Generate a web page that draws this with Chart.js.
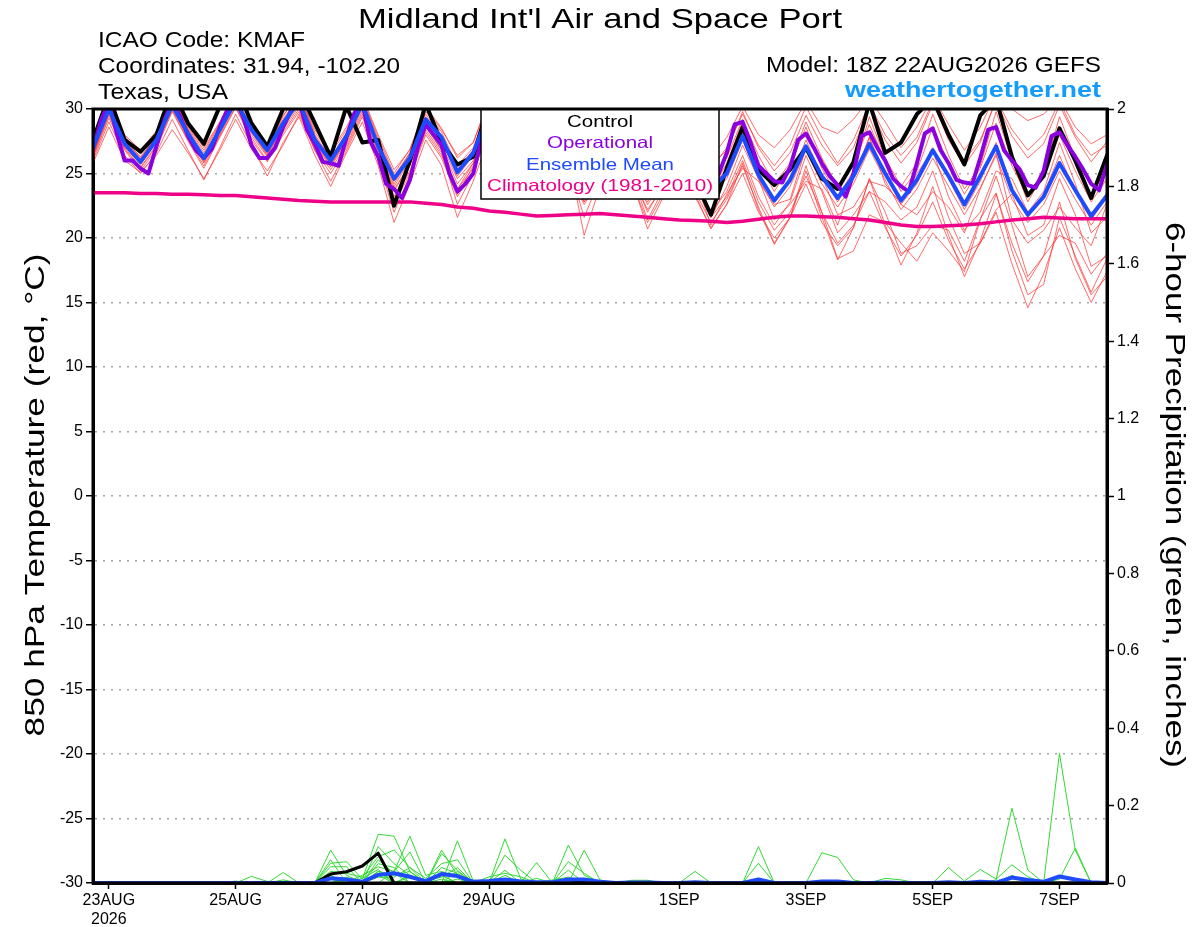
<!DOCTYPE html>
<html><head><meta charset="utf-8">
<script src="https://cdn.jsdelivr.net/npm/chart.js@4.4.1/dist/chart.umd.min.js"></script>
<style>html,body{margin:0;padding:0;background:#fff;}canvas{display:block;}</style>
</head><body>
<canvas id="c" width="1200" height="927"></canvas>
<script>
// ---------- text ----------
const titleText = "Midland Int'l Air and Space Port";
const infoLeft = ["ICAO Code: KMAF", "Coordinates: 31.94, -102.20", "Texas, USA"];
const modelText = "Model: 18Z 22AUG2026 GEFS";
const siteText = "weathertogether.net";
const leftAxisTitle = "850 hPa Temperature (red, °C)";
const rightAxisTitle = "6-hour Precipitation (green, inches)";
const legendLabels = ["Control", "Operational", "Ensemble Mean", "Climatology (1981-2010)"];

// ---------- ticks (x in 6-hour steps from 18Z 22AUG2026) ----------
const xTickIdx = [1, 9, 17, 25, 37, 45, 53, 61];
const xTickLabels = [["23AUG", "2026"], "25AUG", "27AUG", "29AUG", "1SEP", "3SEP", "5SEP", "7SEP"];
const tempTicks = [-30, -25, -20, -15, -10, -5, 0, 5, 10, 15, 20, 25, 30];
const precipTicks = [0, 0.2, 0.4, 0.6, 0.8, 1, 1.2, 1.4, 1.6, 1.8, 2];

// ---------- 850 hPa temperature (6-hourly, 65 values) ----------
const tempControl = [27.6,31.0,27.6,26.7,28.0, 31.5,28.9,27.3,30.2, 32.0,28.9,27.1,30.0, 31.5,28.9,26.3,30.2, 27.4,27.6,22.5,26.0, 30.4,27.4,25.7,26.3, 30.5,28.0,26.5,27.8, 30.6,28.5,26.8,28.0, 30.8,28.2,26.3,27.5, 30.0,24.5,21.8,25.4, 28.6,25.3,24.1,25.3, 27.0,24.6,23.8,25.9, 30.5,26.6,27.4,29.6, 30.8,28.0,25.7,29.5, 30.8,26.3,23.3,24.8, 28.5,26.0,23.1,26.4];
const tempMean = [27.0,30.0,27.3,25.9,27.6, 30.3,28.1,26.2,28.4, 30.6,28.4,26.8,28.9, 30.6,27.6,26.0,27.9, 30.4,27.1,24.6,26.2, 29.2,27.8,25.1,26.6, 29.8,27.8,26.0,27.3, 29.6,27.6,25.8,26.9, 29.4,27.3,25.6,26.6, 28.8,25.8,23.8,25.0, 27.9,24.9,22.9,24.5, 27.1,24.8,23.1,24.8, 27.3,25.0,22.9,24.5, 26.8,24.8,22.6,24.8, 27.1,23.7,21.8,23.2, 25.8,23.7,21.7,23.3];
const tempClim = [23.5,23.5,23.5,23.45,23.45, 23.4,23.4,23.35,23.3, 23.3,23.2,23.1,23.0, 22.9,22.85,22.8,22.8, 22.8,22.8,22.8,22.8, 22.7,22.6,22.4,22.3, 22.1,22.0,21.85,21.7, 21.75,21.8,21.85,21.9, 21.8,21.7,21.6,21.5, 21.4,21.35,21.3,21.2, 21.3,21.45,21.6,21.7, 21.7,21.65,21.6,21.5, 21.4,21.2,21.0,20.9, 20.9,20.95,21.0,21.1, 21.25,21.4,21.5,21.6, 21.55,21.5,21.5,21.5];
// operational run: 3-hourly, 129 values
const tempOper = [
26.9,29.1,30.5,28.1,26.0,26.0,25.4,25.0,27.1,29.1,
30.6,29.4,27.9,26.8,26.2,26.9,28.6,30.0,30.8,29.3,
27.2,26.2,26.2,27.0,28.6,29.9,30.7,28.4,27.3,25.9,
25.8,25.6,27.8,29.7,30.5,27.5,26.3,24.2,23.8,23.1,
24.5,27.0,28.8,28.0,27.2,25.0,23.6,24.2,25.0,27.5,
30.2,29.5,28.0,26.8,26.0,26.5,28.0,29.8,30.5,29.4,
27.6,26.5,25.8,26.2,27.8,29.6,30.3,29.0,27.2,26.0,
25.4,25.8,27.4,29.3,30.0,28.6,26.6,24.5,24.0,25.0,
26.6,28.8,29.0,27.4,25.6,25.0,24.4,24.3,25.5,27.6,
28.1,27.0,25.8,24.8,24.1,23.2,25.0,27.9,28.2,27.0,
26.0,24.6,24.0,23.6,25.8,28.1,28.5,26.8,25.8,24.5,
24.3,24.2,26.2,28.4,28.6,26.8,26.0,25.3,24.1,23.9,
25.2,27.9,28.2,27.2,26.3,25.3,24.2,23.7,25.7];
// ensemble members
const tempM01 = [27.5,31.2,28.0,26.8,28.3, 31.0,28.6,27.0,29.0, 31.4,29.0,27.3,29.5, 31.2,28.4,26.7,28.6, 31.0,28.0,25.3,26.8, 30.2,28.5,26.2,27.4, 30.8,28.8,26.9,28.1, 30.6,28.4,26.7,27.8, 30.4,28.2,26.4,27.5, 30.1,27.5,25.6,26.8, 29.8,27.0,25.2,26.6, 29.5,27.2,25.6,27.0, 30.2,27.6,25.8,27.4, 30.4,27.8,26.0,27.6, 30.6,27.9,26.2,27.3, 30.3,27.8,25.9,27.5];
const tempM02 = [26.5,29.6,27.0,25.5,27.2, 30.0,27.8,25.8,28.0, 30.4,28.0,26.3,28.4, 30.2,27.2,25.5,27.4, 30.0,26.6,23.8,25.6, 28.8,27.2,24.6,26.0, 29.4,27.4,25.4,26.8, 29.2,27.0,25.2,26.4, 29.0,26.8,24.8,26.0, 28.4,25.4,23.2,24.6, 27.6,24.6,22.4,24.0, 26.8,24.2,22.4,24.2, 26.9,24.5,22.2,23.8, 26.2,24.0,21.8,23.9, 26.4,23.0,21.2,22.6, 25.2,23.0,21.0,22.8];
const tempM03 = [26.2,29.3,26.8,25.2,26.9, 29.8,27.5,25.4,27.8, 30.1,27.6,25.9,28.0, 29.8,26.8,25.0,27.0, 29.6,26.2,22.6,25.0, 28.2,26.4,23.8,25.4, 28.8,26.8,24.4,26.0, 28.6,26.2,23.6,25.2, 27.8,25.4,22.8,24.4, 27.2,24.0,21.6,23.2, 26.0,22.8,20.6,22.0, 24.8,22.0,19.6,21.0, 23.6,20.8,18.6,20.2, 22.8,19.8,17.6,19.6, 22.0,18.0,14.6,17.2, 20.8,17.6,15.0,17.4];
const tempM04 = [27.0,30.8,27.6,26.2,28.0, 31.3,28.4,26.6,28.8, 31.6,28.8,27.0,29.4, 31.4,28.0,26.2,28.2, 30.8,27.6,24.8,26.6, 29.8,28.2,25.6,27.0, 30.4,28.4,26.4,27.6, 30.2,28.0,26.2,27.4, 30.0,27.6,25.8,26.8, 29.6,26.6,24.8,26.2, 29.2,26.4,24.2,25.8, 29.0,26.2,24.0,25.6, 28.8,26.0,23.6,25.2, 28.6,25.8,23.4,25.4, 28.9,25.6,23.2,24.8, 28.0,25.2,22.8,24.6];
const tempM05 = [26.0,29.0,26.4,25.0,26.6, 29.2,26.8,24.5,27.0, 29.6,27.2,24.8,27.4, 29.4,26.4,24.0,26.6, 29.0,25.6,21.2,24.2, 27.6,25.6,21.6,24.4, 27.8,25.8,23.0,25.0, 27.6,25.0,22.6,24.6, 27.2,24.8,22.2,24.0, 26.8,23.6,21.2,23.0, 25.6,22.4,19.6,21.6, 25.6,22.0,18.4,19.0, 21.8,21.2,19.6,18.2, 20.4,19.0,17.4,21.4, 24.8,21.0,17.0,18.6, 20.2,19.6,17.2,18.8];
const tempM06 = [26.8,30.2,27.4,26.0,27.8, 30.6,28.2,26.4,28.6, 31.0,28.6,26.9,29.0, 30.8,27.8,26.2,28.0, 30.6,27.4,24.4,26.4, 29.4,27.8,25.2,26.8, 30.0,28.0,26.0,27.6, 30.2,27.8,26.0,27.2, 29.8,27.6,25.8,27.0, 29.6,27.0,25.4,27.0, 29.6,27.2,25.6,27.2, 30.2,27.8,25.8,27.6, 30.4,28.0,26.4,27.8, 30.6,27.6,25.6,27.4, 30.8,28.4,26.8,28.0, 30.6,28.0,26.4,27.2];
const tempM07 = [26.4,29.8,27.1,25.7,27.4, 30.2,27.9,25.9,28.2, 30.5,28.2,26.5,28.6, 30.4,27.4,25.7,27.6, 30.2,26.8,24.0,26.0, 28.6,26.8,23.4,25.6, 28.8,26.6,23.4,25.8, 28.4,25.8,21.6,24.6, 27.6,25.0,22.0,24.2, 27.4,24.4,21.6,24.0, 27.2,24.6,21.4,22.6, 24.4,23.8,21.0,24.6, 27.8,24.2,22.6,21.8, 23.6,22.4,20.4,23.8, 26.6,21.4,19.6,20.6, 22.4,20.8,19.4,22.6];
const tempM08 = [27.2,30.4,27.6,26.3,27.8, 30.8,28.3,26.2,28.4, 30.8,28.4,26.7,28.8, 30.6,27.6,25.8,27.8, 30.6,27.0,23.2,25.6, 29.0,27.0,24.2,25.8, 29.2,27.0,24.6,26.2, 28.8,26.4,20.2,24.0, 27.0,24.6,20.7,23.2, 26.4,23.4,20.7,22.6, 25.8,22.2,19.5,21.6, 25.2,21.6,18.3,20.8, 24.6,21.0,17.9,20.4, 24.0,20.2,17.0,19.8, 23.4,19.6,16.6,18.6, 22.8,18.4,15.6,17.0];
const tempM09 = [26.6,29.9,27.2,25.8,27.5, 30.4,28.0,26.0,28.3, 30.7,28.3,26.6,28.7, 30.5,27.5,25.9,27.8, 30.3,27.0,24.2,26.2, 29.0,27.6,24.8,26.4, 29.6,27.6,25.8,27.2, 29.4,27.4,25.6,26.8, 29.2,27.0,25.2,26.4, 28.8,25.6,23.8,25.4, 28.2,25.0,23.0,24.6, 27.6,24.8,22.8,24.6, 27.8,25.0,22.6,24.2, 27.0,24.6,22.2,24.4, 27.4,23.8,21.6,23.4, 26.4,23.6,21.4,23.2];
const tempM10 = [27.4,30.6,27.9,26.5,28.1, 30.9,28.5,26.8,28.9, 31.2,28.9,27.2,29.2, 31.0,28.2,26.5,28.4, 30.9,27.8,25.0,26.9, 30.0,28.4,26.4,27.4, 30.6,28.6,27.0,28.0, 30.8,28.6,27.0,28.2, 30.6,28.4,26.8,28.0, 30.4,28.0,26.2,27.8, 30.2,28.0,27.0,28.4, 30.6,28.6,28.1,29.2, 30.8,29.0,27.0,28.6, 31.0,28.8,26.8,28.6, 31.2,30.0,29.1,29.6, 30.8,28.6,27.3,28.0];
const tempM11 = [26.3,29.5,26.9,25.4,27.1, 29.9,27.6,25.6,27.9, 30.2,27.8,26.0,28.2, 30.0,27.0,25.3,27.2, 29.8,26.4,23.0,25.2, 28.4,26.6,22.6,25.0, 28.6,26.4,23.6,25.6, 28.2,25.6,22.8,24.6, 27.8,25.0,21.4,23.8, 27.0,24.0,22.0,23.6, 26.4,23.2,21.0,22.8, 26.4,23.6,20.4,21.8, 23.6,22.8,21.4,22.4, 25.2,21.6,18.8,19.6, 22.2,23.4,20.2,21.0, 24.6,21.8,17.8,18.6];
const tempM12 = [27.0,30.3,27.5,26.1,27.8, 30.7,28.2,26.3,28.5, 31.0,28.5,26.8,29.0, 30.9,27.9,26.0,27.9, 30.7,27.3,24.6,26.6, 29.6,27.9,25.4,26.8, 30.2,28.2,26.2,27.8, 30.0,27.8,25.8,27.0, 29.6,27.2,25.4,26.6, 29.0,26.0,23.6,25.8, 29.0,25.8,23.6,25.6, 28.6,25.4,23.2,25.2, 29.4,26.2,24.0,25.8, 29.6,26.4,23.8,25.6, 29.8,26.0,22.8,25.0, 29.4,26.2,23.2,25.6];
const tempM13 = [26.7,30.0,27.3,25.9,27.6, 30.4,28.0,26.1,28.4, 30.6,28.2,26.4,28.6, 30.4,27.3,25.6,27.6, 30.2,26.9,23.6,25.8, 28.8,26.8,23.8,25.8, 29.0,26.6,24.0,25.8, 28.4,25.8,22.8,24.8, 27.6,24.4,21.2,23.4, 26.6,23.2,20.8,22.6, 25.0,22.0,20.0,21.6, 24.2,21.2,19.4,20.8, 24.6,22.0,18.8,19.4, 21.0,20.6,18.2,21.5, 23.5,19.0,15.6,16.4, 21.6,18.6,15.8,18.4];
const tempM14 = [25.8,28.6,26.0,25.1,26.4, 28.4,26.6,24.6,26.8, 29.2,26.9,25.2,27.2, 29.6,26.8,24.4,26.8, 29.4,26.0,22.0,24.8, 28.0,26.2,23.2,25.2, 28.4,26.2,24.2,25.6, 28.0,25.6,23.4,25.0, 27.6,25.2,22.6,24.4, 27.4,24.6,21.0,23.4, 25.4,24.4,22.6,23.0, 27.0,24.8,21.8,22.4, 24.4,24.0,22.8,25.0, 26.8,23.2,20.6,22.0, 25.2,24.6,22.0,23.6, 27.4,24.2,20.4,21.6];
const tempMembers = [tempM01,tempM02,tempM03,tempM04,tempM05,tempM06,tempM07,tempM08,tempM09,tempM10,tempM11,tempM12,tempM13,tempM14];

// ---------- 6-hour precipitation, inches (65 values) ----------
const precipControl = [
0,0,0,0,0,0,0,0,0,0,
0,0,0,0,0,0.023,0.029,0.044,0.077,0,
0,0,0,0,0,0,0,0,0,0,
0,0.003,0,0,0,0,0,0,0,0,
0,0,0,0,0,0,0,0,0,0,
0,0,0,0,0,0,0,0,0,0,
0,0,0,0,0];
const precipMean = [
0,0,0,0,0,0,0,0,0,0,
0,0,0,0,0,0.012,0.009,0.003,0.021,0.025,
0.016,0.005,0.023,0.018,0.003,0.005,0.009,0.004,0.002,0.002,
0.009,0.009,0.003,0,0.001,0.001,0,0,0.002,0,
0,0,0.009,0,0,0,0.004,0.004,0,0,
0.001,0,0,0,0.002,0,0.003,0.001,0.014,0.008,
0.003,0.017,0.009,0.002,0];
const precipM01 = [
0,0,0,0,0,0,0,0,0,0,
0.017,0.004,0,0,0,0.085,0.02,0,0.03,0,
0,0,0.085,0.02,0,0,0.114,0.01,0,0,
0.098,0.02,0,0,0,0,0,0,0,0,
0,0,0.094,0,0,0,0,0,0,0,
0,0,0,0,0,0,0,0,0,0,
0,0.335,0.085,0,0];
const precipM02 = [
0,0,0,0,0,0,0,0,0,0,
0,0,0.027,0,0,0.051,0.055,0.01,0.126,0.121,
0.03,0,0,0.109,0.005,0,0.033,0,0.053,0,
0,0.085,0.008,0,0,0,0,0,0,0,
0,0,0,0,0,0,0.078,0.066,0.008,0,
0,0,0,0,0,0,0,0.008,0.193,0.034,
0,0,0,0,0];
const precipM03 = [
0,0,0,0,0,0,0,0,0,0,
0,0,0,0,0,0.042,0.042,0,0.094,0.05,
0.02,0,0.076,0.033,0,0,0.072,0.033,0,0,
0.055,0.025,0,0,0,0,0,0,0,0,
0,0,0.051,0,0,0,0,0,0,0,
0,0,0,0,0.04,0.005,0.035,0.01,0.047,0.016,
0,0.01,0.09,0,0];
const precipM04 = [
0,0,0,0,0,0,0,0,0,0,
0,0,0,0,0,0.03,0.025,0.015,0.068,0.085,
0.04,0.012,0.05,0.06,0,0.016,0.025,0.016,0,0,
0.033,0,0,0,0,0,0,0,0.03,0,
0,0,0,0,0,0,0,0,0,0,
0,0,0,0,0,0,0,0,0,0,
0,0,0,0,0];
const precipM05 = [
0,0,0,0,0,0,0,0,0,0,
0,0,0,0,0,0,0,0,0,0.03,
0.121,0.02,0.03,0.015,0,0,0,0,0.012,0,
0,0,0,0,0.007,0.007,0,0,0,0,
0,0,0,0,0,0,0,0,0,0,
0.012,0.008,0,0,0,0,0,0,0,0,
0,0,0,0,0];
const precipM06 = [
0,0,0,0,0,0,0,0,0,0.005,
0,0,0,0,0,0.02,0,0.02,0.042,0.03,
0.08,0,0.02,0,0.008,0,0.02,0,0,0,
0,0,0,0,0,0,0,0,0,0,
0,0,0,0,0,0,0,0,0,0,
0,0,0,0,0,0,0,0,0,0,
0,0,0,0,0];
const precipM07 = [
0,0,0,0,0,0,0,0,0,0,
0,0,0,0,0,0,0.015,0,0.03,0.02,
0.03,0,0.04,0.025,0,0,0,0,0,0,
0,0,0,0,0,0,0,0,0,0,
0,0,0,0,0,0,0,0,0,0,
0,0,0,0,0,0,0,0,0.02,0,
0,0,0,0,0];
const precipM08 = [
0,0,0,0,0,0,0,0,0,0,
0,0,0,0,0,0.01,0,0,0.02,0,
0.015,0,0.01,0,0,0,0,0,0,0.008,
0.015,0,0,0,0,0,0,0,0,0,
0,0,0,0,0,0,0,0,0,0,
0,0,0,0,0,0,0,0,0,0,
0,0,0,0,0];
const precipM09 = [
0,0,0,0,0,0,0,0,0,0,
0,0,0,0,0,0,0,0,0.05,0.04,
0,0,0,0.03,0,0,0,0,0,0,
0,0,0,0,0,0,0,0,0,0,
0,0,0,0,0,0,0,0,0,0,
0,0,0,0,0,0,0,0,0,0,
0,0,0,0,0];
const precipM10 = [
0,0,0,0,0,0,0,0,0,0,
0,0,0,0,0,0,0.01,0,0.015,0.015,
0.04,0,0.02,0,0,0,0,0,0,0,
0,0,0,0,0,0,0,0,0,0,
0,0,0,0,0,0,0,0,0,0,
0,0,0,0,0,0,0,0,0,0,
0,0,0,0,0];
const precipM11 = [
0,0,0,0,0,0,0,0,0,0,
0,0,0.008,0,0,0.06,0,0,0.06,0.025,
0,0,0,0.01,0,0,0,0,0,0,
0,0,0,0,0,0,0,0,0,0,
0,0,0,0,0,0,0,0,0,0,
0,0,0,0,0,0,0,0,0,0,
0,0,0,0,0];
const precipM12 = [
0,0,0,0,0,0,0,0,0,0,
0,0,0,0,0,0,0,0.012,0.035,0,
0.02,0.008,0.015,0.04,0,0,0,0,0,0,
0,0,0,0,0,0,0,0,0,0,
0,0,0,0,0,0,0,0,0,0,
0,0,0,0,0,0,0,0,0,0,
0,0,0,0,0];
const precipMembers = [precipM01,precipM02,precipM03,precipM04,precipM05,precipM06,precipM07,precipM08,precipM09,precipM10,precipM11,precipM12];

// ---------- styles ----------
const FONT_FAMILY = '"Liberation Sans", Arial, Helvetica, sans-serif';
const COL_CONTROL = '#000000';
const COL_OPER = '#8a00e0';
const COL_MEAN = '#1f4bff';
const COL_CLIM = '#ee0088';
const COL_RED = 'rgba(255,45,45,0.7)';
const COL_GREEN = 'rgba(40,215,40,0.95)';
const COL_SITE = '#149bff';

const six = arr => arr.map((v, i) => ({x: i, y: v}));
const three = arr => arr.map((v, j) => ({x: j / 2, y: v}));
const base = {pointRadius: 0, pointHoverRadius: 0, fill: false, tension: 0, clip: 0, borderJoinStyle: 'round', borderCapStyle: 'round'};

const datasets = [];
datasets.push(Object.assign({}, base, {data: six(tempMean), borderColor: COL_MEAN, borderWidth: 4, yAxisID: 'y', order: 0}));
datasets.push(Object.assign({}, base, {data: three(tempOper), borderColor: COL_OPER, borderWidth: 4, yAxisID: 'y', order: 1}));
datasets.push(Object.assign({}, base, {data: six(tempControl), borderColor: COL_CONTROL, borderWidth: 4, yAxisID: 'y', order: 2}));
datasets.push(Object.assign({}, base, {data: six(tempClim), borderColor: COL_CLIM, borderWidth: 3.5, yAxisID: 'y', order: 3}));
datasets.push(Object.assign({}, base, {data: six(precipMean), borderColor: COL_MEAN, borderWidth: 4, yAxisID: 'y2', order: 4}));
datasets.push(Object.assign({}, base, {data: six(precipControl), borderColor: COL_CONTROL, borderWidth: 3, yAxisID: 'y2', order: 5}));
precipMembers.forEach(m => datasets.push(Object.assign({}, base, {data: six(m), borderColor: COL_GREEN, borderWidth: 1, yAxisID: 'y2', order: 6})));
tempMembers.forEach(m => datasets.push(Object.assign({}, base, {data: six(m), borderColor: COL_RED, borderWidth: 1, yAxisID: 'y', order: 7})));

function fitText(ctx, text, x, y, size, color, width, align, bold) {
  ctx.save();
  ctx.font = (bold ? 'bold ' : '') + size + 'px ' + FONT_FAMILY;
  ctx.fillStyle = color;
  ctx.textBaseline = 'alphabetic';
  ctx.textAlign = 'left';
  const w = ctx.measureText(text).width;
  const s = width / w;
  let x0 = x;
  if (align === 'center') x0 = x - width / 2;
  else if (align === 'right') x0 = x - width;
  ctx.translate(x0, y);
  ctx.scale(s, 1);
  ctx.fillText(text, 0, 0);
  ctx.restore();
}

const decor = {
  id: 'decor',
  afterDatasetsDraw(chart) {
    const ctx = chart.ctx;
    const a = chart.chartArea;
    // legend box
    ctx.save();
    ctx.fillStyle = '#fff';
    ctx.fillRect(481, a.top, 238, 90);
    ctx.strokeStyle = '#000';
    ctx.lineWidth = 1.5;
    ctx.strokeRect(481, a.top, 238, 90);
    ctx.restore();
    const cols = [COL_CONTROL, COL_OPER, COL_MEAN, COL_CLIM];
    const widths = [66, 106, 148, 226];
    const bases = [127, 148, 170, 191];
    legendLabels.forEach((t, k) => fitText(ctx, t, 600, bases[k], 16.5, cols[k], widths[k], 'center'));
    // frame
    ctx.save();
    ctx.strokeStyle = '#000';
    ctx.lineWidth = 3;
    ctx.strokeRect(a.left, a.top, a.right - a.left, a.bottom - a.top);
    ctx.restore();
  },
  afterDraw(chart) {
    const ctx = chart.ctx;
    fitText(ctx, titleText, 600, 28, 28, '#000', 484, 'center');
    fitText(ctx, infoLeft[0], 98, 47, 22, '#000', 207, 'left');
    fitText(ctx, infoLeft[1], 98, 72.5, 22, '#000', 302, 'left');
    fitText(ctx, infoLeft[2], 98, 99, 22, '#000', 130, 'left');
    fitText(ctx, modelText, 1101, 72, 22, '#000', 335, 'right');
    fitText(ctx, siteText, 1101, 97, 22, COL_SITE, 256, 'right', true);
    ctx.save();
    ctx.translate(44, 495);
    ctx.rotate(-Math.PI / 2);
    fitText(ctx, leftAxisTitle, 0, 0, 28, '#000', 483, 'center');
    ctx.restore();
    ctx.save();
    ctx.translate(1166, 495);
    ctx.rotate(Math.PI / 2);
    fitText(ctx, rightAxisTitle, 0, 0, 28, '#000', 546, 'center');
    ctx.restore();
  }
};

const tickFont = {family: FONT_FAMILY, size: 16};

new Chart(document.getElementById('c'), {
  type: 'line',
  data: {datasets: datasets},
  plugins: [decor],
  options: {
    responsive: false,
    animation: false,
    devicePixelRatio: 1,
    events: [],
    layout: {padding: {top: 109, left: 0, right: 0, bottom: 0}},
    plugins: {legend: {display: false}, title: {display: false}, tooltip: {enabled: false}},
    scales: {
      x: {
        type: 'linear', min: 0, max: 64,
        afterBuildTicks: s => { s.ticks = xTickIdx.map(v => ({value: v})); },
        afterFit: s => { s.height = 44; },
        ticks: {autoSkip: false, maxRotation: 0, minRotation: 0, font: tickFont, color: '#000', padding: 2,
          callback: v => { const k = xTickIdx.indexOf(v); return k >= 0 ? xTickLabels[k] : ''; }},
        grid: {drawOnChartArea: false, drawTicks: true, tickLength: 6, tickColor: '#000', tickWidth: 1.5},
        border: {display: true, color: '#000', width: 3}
      },
      y: {
        type: 'linear', position: 'left', min: -30, max: 30,
        afterBuildTicks: s => { s.ticks = tempTicks.map(v => ({value: v})); },
        afterFit: s => { s.width = 93; },
        ticks: {font: tickFont, color: '#000', padding: 3, callback: v => String(v)},
        grid: {drawOnChartArea: true, drawTicks: true, tickLength: 7, tickColor: '#000', tickWidth: 1.5, lineWidth: 1.5,
          color: c => (c.tick && (c.tick.value === 30 || c.tick.value === -30)) ? 'rgba(0,0,0,0)' : '#a8a8a8'},
        border: {display: true, color: '#000', width: 3, dash: [2, 6]}
      },
      y2: {
        type: 'linear', position: 'right', min: 0, max: 2,
        afterBuildTicks: s => { s.ticks = precipTicks.map(v => ({value: v})); },
        afterFit: s => { s.width = 93; },
        ticks: {font: tickFont, color: '#000', padding: 3, callback: v => String(+v.toFixed(1))},
        grid: {drawOnChartArea: false, drawTicks: true, tickLength: 7, tickColor: '#000', tickWidth: 1.5},
        border: {display: true, color: '#000', width: 3}
      }
    }
  }
});
</script>
</body></html>
